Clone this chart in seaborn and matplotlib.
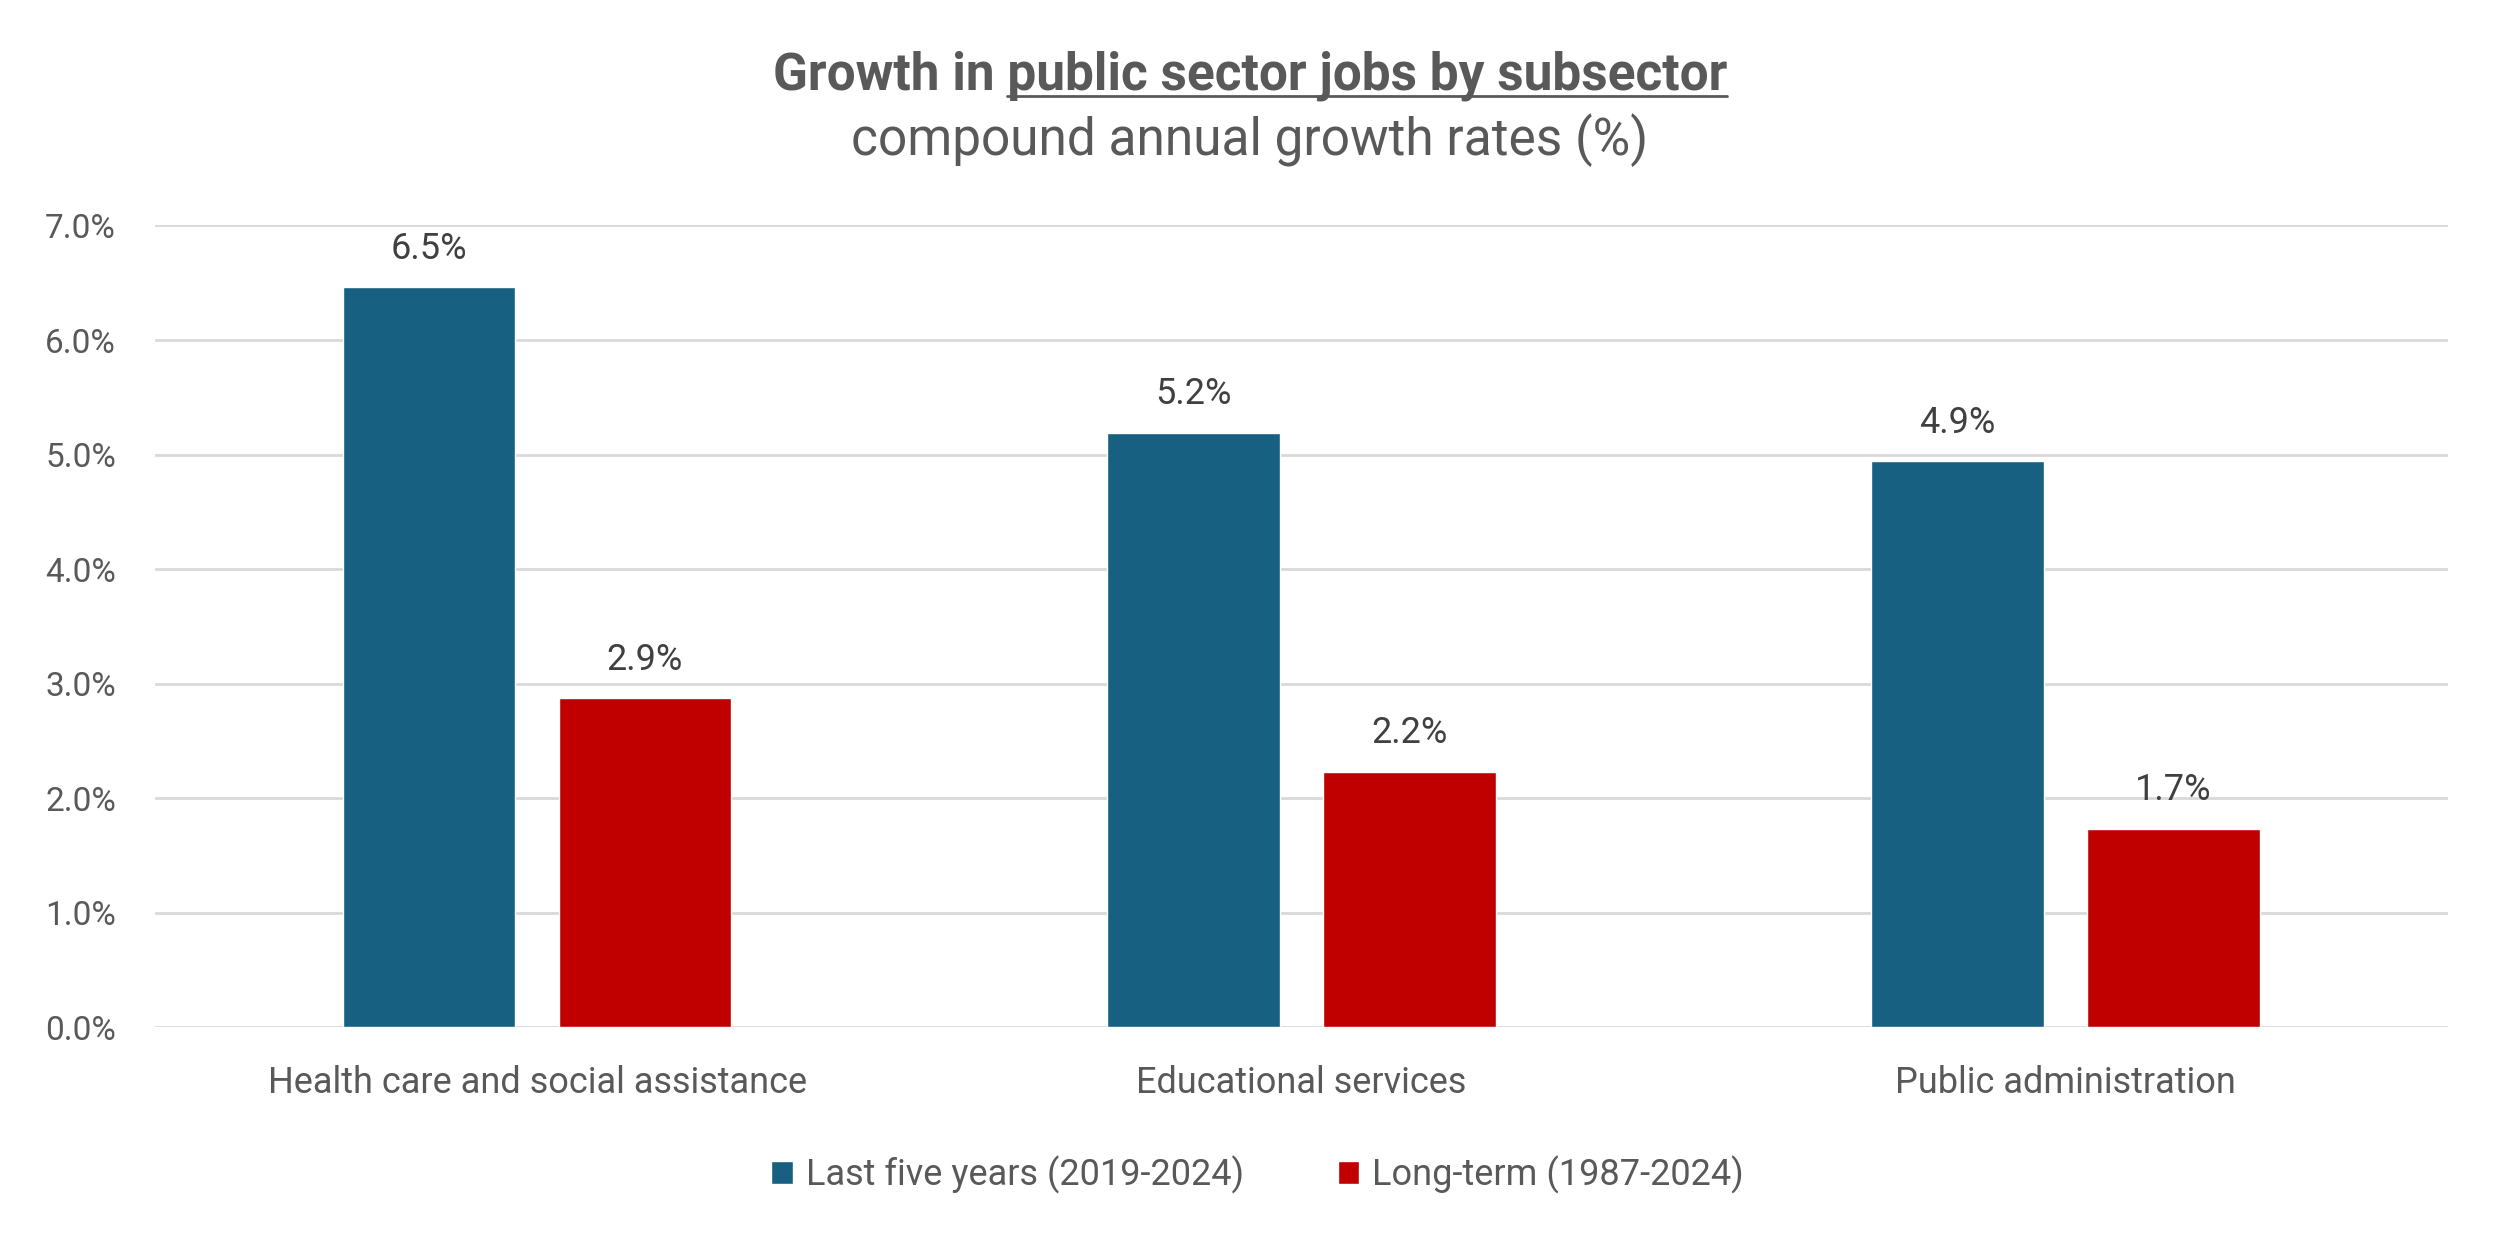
import matplotlib
matplotlib.use("Agg")
import matplotlib.pyplot as plt
import seaborn as sns
import pandas as pd
from matplotlib.lines import Line2D

categories = ["Health care and social assistance", "Educational services", "Public administration"]
series_names = ["Last five years (2019-2024)", "Long-term (1987-2024)"]
last_five = [6.46, 5.19, 4.94]
long_term = [2.87, 2.23, 1.73]
yticks = [0, 1, 2, 3, 4, 5, 6, 7]
title_prefix = "Growth in "
title_underlined = "public sector jobs by subsector"
subtitle = "compound annual growth rates (%)"

colors = {series_names[0]: "#176081", series_names[1]: "#C00000"}

df = pd.DataFrame({
    "category": categories * 2,
    "series": [series_names[0]] * 3 + [series_names[1]] * 3,
    "value": last_five + long_term,
})

sns.set_theme(style="white")
FONT = ["Roboto", "DejaVu Sans"]
plt.rcParams["font.family"] = FONT

fig = plt.figure(figsize=(25, 12.39), dpi=100)
ax = fig.add_axes([0.062, 0.171, 0.917, 0.647])

sns.barplot(data=df, x="category", y="value", hue="series", order=categories,
            hue_order=series_names, palette=colors, width=0.565, gap=0.2,
            saturation=1, ax=ax, legend=True)

ax.set_xlim(-0.5, 2.5)
ax.set_ylim(0, 7)
ax.set_yticks(yticks)
ax.set_yticklabels([f"{v:.1f}%" for v in yticks])
ax.yaxis.grid(True, color="#D9D9D9", linewidth=2)
ax.set_axisbelow(True)
for s in ax.spines.values():
    s.set_visible(False)
ax.tick_params(axis="y", length=0, pad=28, labelsize=24, labelcolor="#595959")
ax.tick_params(axis="x", length=0, pad=27, labelsize=26, labelcolor="#595959")
ax.set_xlabel("")
ax.set_ylabel("")

for cont in ax.containers:
    ax.bar_label(cont, labels=[f"{b.get_height():.1f}%" for b in cont],
                 padding=15, fontsize=26, color="#404040")

handles, labels = ax.get_legend_handles_labels()
ax.get_legend().remove()
fig.legend(handles, labels, loc="center", bbox_to_anchor=(0.503, 0.052), ncol=2,
           frameon=False, fontsize=26, handlelength=0.6, handleheight=0.6,
           handletextpad=0.35, columnspacing=2.6, labelcolor="#595959")

# Title with underlined part
full_title = title_prefix + title_underlined
ty = 1 - 76 / 1239
t = fig.text(0.5, ty, full_title, ha="center", va="center", fontsize=37,
             fontweight="bold", color="#595959")
fig.text(0.5, 1 - 140 / 1239, subtitle, ha="center", va="center", fontsize=37,
         color="#595959")

fig.canvas.draw()
r = fig.canvas.get_renderer()
bb = t.get_window_extent(r)
tmp = fig.text(0, 0, title_underlined, fontsize=37, fontweight="bold")
wu = tmp.get_window_extent(r).width
tmp.remove()
W, H = fig.bbox.width, fig.bbox.height
x1 = bb.x1 / W
x0 = (bb.x1 - wu) / W
yline = (bb.y0 + 5) / H
fig.add_artist(Line2D([x0, x1], [yline, yline], transform=fig.transFigure,
                      color="#595959", linewidth=2))

fig.savefig("out.png", dpi=100, facecolor="white")
